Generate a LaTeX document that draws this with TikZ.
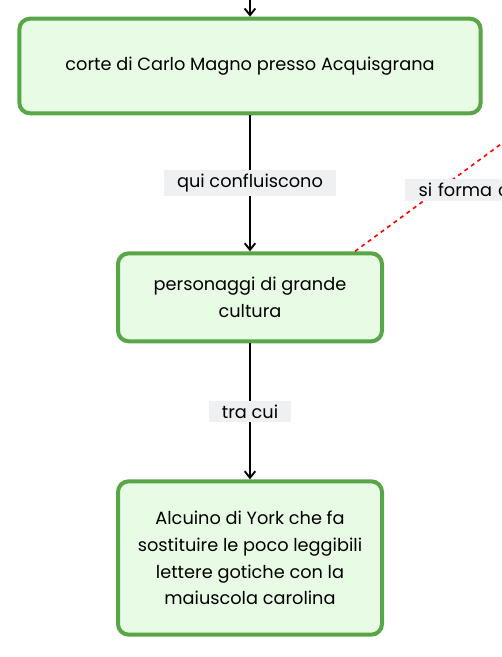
\documentclass[tikz,border=0pt]{standalone}
\usepackage{fontspec}
\setmainfont{Poppins}
\usetikzlibrary{positioning,arrows.meta,calc}
\definecolor{boxgreen}{RGB}{88,166,72}
\definecolor{boxfill}{RGB}{232,251,228}
\definecolor{lblgray}{RGB}{238,240,241}

\begin{document}
\begin{tikzpicture}[
  x=0.75pt, y=-0.75pt,
  font=\fontsize{13.3}{20}\selectfont, >={Straight Barb[length=5pt,width=8pt]},
  concept/.style={draw=boxgreen, line width=3pt, rounded corners=8pt, fill=boxfill, align=center, inner sep=0pt},
  link/.style={->, line width=1.4pt},
  lbl/.style={fill=lblgray, inner xsep=10pt, inner ysep=3pt},
]
\useasboundingbox (0,0) rectangle (501,657);
\clip (0,0) rectangle (501,657);

% concepts
\node[concept, minimum width=346pt, minimum height=71pt] (corte) at (250,66)
  {corte di Carlo Magno presso Acquisgrana};
\node[concept, minimum width=198pt, minimum height=66pt, below=102pt of corte] (pers)
  {personaggi di grande\\cultura};
\node[concept, minimum width=198pt, minimum height=115pt, below=102pt of pers] (alc)
  {Alcuino di York che fa\\sostituire le poco leggibili\\lettere gotiche con la\\maiuscola carolina};

% links
\coordinate (top) at (250,0);
\draw[link] (top) -- (corte.north);
\draw[link] (corte) -- node[lbl] {qui confluiscono} (pers);
\draw[link] (pers) -- node[lbl] {tra cui} (alc);

% cut-off link on the right
\coordinate (far) at (512,136);
\draw[red, line width=1.2pt, dash pattern=on 3pt off 3pt] ($(pers.north)+(105,0)$) -- (far);
\node[lbl, anchor=west, text width=110pt, align=left, inner xsep=10pt] (forma) at (405,190) {si forma c};
\end{tikzpicture}
\end{document}
